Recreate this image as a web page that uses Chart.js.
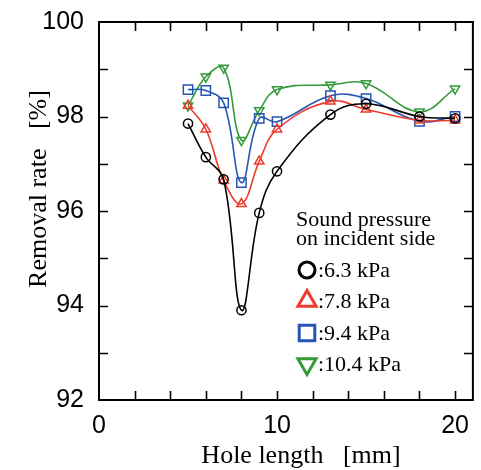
<!DOCTYPE html>
<html>
<head>
<meta charset="utf-8">
<script src="https://cdn.jsdelivr.net/npm/chart.js@4/dist/chart.umd.min.js"></script>
<style>
  html, body { margin: 0; padding: 0; background: #fff; }
  #wrap { width: 481px; height: 470px; }
</style>
</head>
<body>
<div id="wrap"><canvas id="c" width="481" height="470"></canvas></div>
<script>
// Hole length [mm]
const holeLength = [5, 6, 7, 8, 9, 10, 13, 15, 18, 20];

// Removal rate [%] for each incident sound pressure
const rate63  = [97.85, 97.14, 96.67, 93.90, 95.96, 96.84, 98.04, 98.27, 98.00, 97.96];
const rate78  = [98.23, 97.73, 96.65, 96.15, 97.05, 97.73, 98.32, 98.15, 97.92, 97.92];
const rate94  = [98.57, 98.55, 98.29, 96.60, 97.96, 97.89, 98.44, 98.38, 97.90, 98.00];
const rate104 = [98.23, 98.84, 99.03, 97.50, 98.13, 98.57, 98.67, 98.70, 98.10, 98.59];

const seriesLabels = ['6.3 kPa', '7.8 kPa', '9.4 kPa', '10.4 kPa'];
const legendTitle = ['Sound pressure', 'on incident side'];
const xTitle = 'Hole length   [mm]';
const yTitle = 'Removal rate   [%]';

const xTickLabels = [0, 10, 20];
const yTickLabels = [92, 94, 96, 98, 100];

const toPoints = (ys) => holeLength.map((x, i) => ({ x: x, y: ys[i] }));

const styles = [
  { color: '#000000', pointStyle: 'circle',   rotation: 0,   radius: 4.6 },
  { color: '#ee3a2c', pointStyle: 'triangle', rotation: 0,   radius: 5.4 },
  { color: '#2556b4', pointStyle: 'rect',     rotation: 0,   radius: 6.6 },
  { color: '#379a3c', pointStyle: 'triangle', rotation: 180, radius: 5.4 }
];

const allRates = [rate63, rate78, rate94, rate104];

const datasets = allRates.map((ys, i) => ({
  label: seriesLabels[i],
  data: toPoints(ys),
  borderColor: styles[i].color,
  backgroundColor: 'rgba(0,0,0,0)',
  borderWidth: 1.6,
  tension: 0.4,
  pointStyle: styles[i].pointStyle,
  rotation: styles[i].rotation,
  pointRadius: styles[i].radius,
  pointBorderWidth: 1.5,
  pointBorderColor: styles[i].color,
  pointBackgroundColor: 'rgba(0,0,0,0)',
  clip: false
}));

const serif = '"Liberation Serif", "Times New Roman", serif';

// Frame with inward ticks on all four sides, plus axis titles
const framePlugin = {
  id: 'frame',
  afterDatasetsDraw(chart) {
    const { ctx, chartArea: a, scales } = chart;
    const xs = scales.x, ys = scales.y;
    const len = 9;
    ctx.save();
    ctx.strokeStyle = '#000';
    ctx.lineWidth = 2;
    ctx.beginPath();
    ctx.rect(a.left, a.top, a.right - a.left, a.bottom - a.top);
    ctx.stroke();
    ctx.lineWidth = 1.6;
    ctx.beginPath();
    for (let v = 2; v <= 20; v += 2) {
      const px = Math.round(xs.getPixelForValue(v)) + 0.5;
      ctx.moveTo(px, a.bottom); ctx.lineTo(px, a.bottom - len);
      ctx.moveTo(px, a.top); ctx.lineTo(px, a.top + len);
    }
    for (let v = 93; v <= 99; v += 1) {
      const py = Math.round(ys.getPixelForValue(v)) + 0.5;
      ctx.moveTo(a.left, py); ctx.lineTo(a.left + len, py);
      ctx.moveTo(a.right, py); ctx.lineTo(a.right - len, py);
    }
    ctx.stroke();

    ctx.fillStyle = '#000';
    ctx.font = '26px ' + serif;
    ctx.textAlign = 'center';
    ctx.textBaseline = 'alphabetic';
    ctx.fillText(xTitle, 301, 463);
    ctx.translate(46, 189);
    ctx.rotate(-Math.PI / 2);
    ctx.fillText(yTitle, 0, 0);
    ctx.restore();
  }
};

// Legend block inside the plot area
const legendPlugin = {
  id: 'innerLegend',
  afterDraw(chart) {
    const { ctx } = chart;
    ctx.save();
    ctx.fillStyle = '#000';
    ctx.font = '22px ' + serif;
    ctx.textAlign = 'left';
    ctx.textBaseline = 'alphabetic';
    ctx.fillText(legendTitle[0], 296, 226);
    ctx.fillText(legendTitle[1], 296, 245);
    const markerX = 307;
    const rowY = [270, 301, 333, 364];
    const bigRadius = [8, 10.5, 11, 10.5];
    chart.data.datasets.forEach((ds, i) => {
      ctx.strokeStyle = ds.borderColor;
      ctx.fillStyle = 'rgba(0,0,0,0)';
      ctx.lineWidth = 3;
      Chart.helpers.drawPoint(ctx, {
        pointStyle: ds.pointStyle,
        rotation: ds.rotation,
        radius: bigRadius[i],
        borderWidth: 3
      }, markerX, rowY[i]);
      ctx.fillStyle = '#000';
      ctx.fillText(':' + ds.label, 318, rowY[i] + 7);
    });
    ctx.restore();
  }
};

new Chart(document.getElementById('c'), {
  type: 'line',
  data: { datasets: datasets },
  options: {
    responsive: false,
    animation: false,
    devicePixelRatio: 1,
    layout: { padding: { top: 20, right: 4, left: 0, bottom: 0 } },
    plugins: { legend: { display: false }, tooltip: { enabled: false } },
    scales: {
      x: {
        type: 'linear',
        min: 0,
        max: 21,
        afterFit(s) { s.height = 70; },
        afterBuildTicks(s) { s.ticks = xTickLabels.map(v => ({ value: v })); },
        grid: { display: false },
        border: { display: false },
        ticks: {
          padding: 3,
          color: '#000',
          font: { family: '"Liberation Sans", Arial, sans-serif', size: 25 },
          maxRotation: 0
        }
      },
      y: {
        type: 'linear',
        min: 92,
        max: 100,
        afterFit(s) { s.width = 99; },
        afterBuildTicks(s) { s.ticks = yTickLabels.map(v => ({ value: v })); },
        grid: { display: false },
        border: { display: false },
        ticks: {
          padding: 7,
          color: '#000',
          font: { family: '"Liberation Sans", Arial, sans-serif', size: 25 }
        }
      }
    }
  },
  plugins: [framePlugin, legendPlugin]
});
</script>
</body>
</html>
